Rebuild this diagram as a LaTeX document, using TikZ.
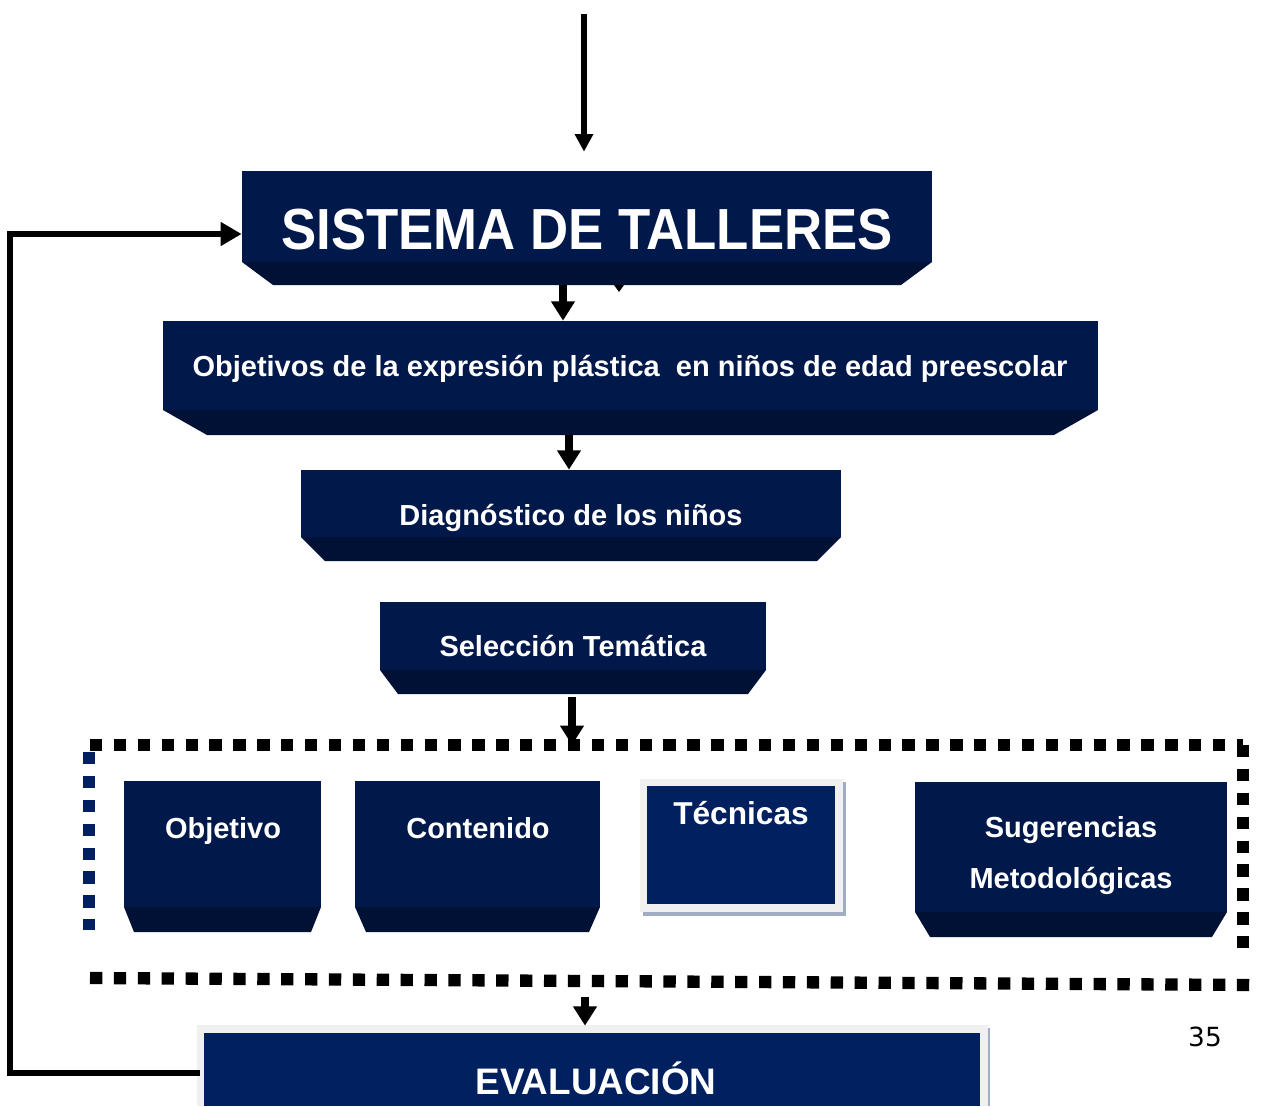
\documentclass[tikz,border=0pt]{standalone}
\usepackage{fontspec}
\setmainfont{Liberation Sans}
\newfontfamily\numfont{DejaVu Sans}
\usetikzlibrary{arrows.meta}
\usetikzlibrary{fit}
\usetikzlibrary{calc}

\definecolor{navytop}{RGB}{0,24,74}
\definecolor{navybev}{RGB}{0,17,54}
\definecolor{navylit}{RGB}{0,32,96}
\definecolor{framegray}{RGB}{240,240,240}
\definecolor{gridblue}{RGB}{160,172,196}

\tikzset{
  body/.style={fill=navytop, draw=none, inner sep=0pt},
  bevel/.style={fill=navybev},
  boxtext/.style={text=white, anchor=base, inner sep=0pt,
    font=\bfseries\fontsize{16.5}{20}\selectfont},
  arr/.style={line width=5pt, -{Triangle[width=13pt,length=11pt]}},
  thinarr/.style={line width=3.4pt, -{Triangle[width=10pt,length=10pt]}},
  dots/.style={line width=7pt, dash pattern=on 7pt off 6.6pt},
}

% box with a darker bevel under it
\newcommand{\tallerbox}[7]{%
  \fill[bevel] (#2,#5) -- (#4,#5) -- ({#4-#7},#6) -- ({#2+#7},#6) -- cycle;
  \node[body, fit={(#2,#3) (#4,#5)}] (#1) {};
  \coordinate (#1-b) at ({(#2+#4)/2},#6);
}

\begin{document}
\begin{tikzpicture}[x=0.02cm, y=-0.02cm]
  \useasboundingbox (0,0) rectangle (1261,1106);

  \tallerbox{sistema}{242}{171}{932}{262}{285}{31}
  \node[boxtext, font=\bfseries\fontsize{33}{38}\selectfont] (sistemaT) at (587,249)
    {\scalebox{0.91}[1]{SISTEMA DE TALLERES}};
  \fill (614,285) -- (624,285) -- (619,292) -- cycle;

  \tallerbox{objetivos}{163}{321}{1098}{410}{435}{44}
  \node[boxtext] (objetivosT) at (630,376)
    {Objetivos de la expresión plástica\ \ en niños de edad preescolar};

  \tallerbox{diagnostico}{301}{470}{841}{537}{561}{24}
  \node[boxtext] (diagnosticoT) at (571,525) {Diagnóstico de los niños};

  \tallerbox{seleccion}{380}{602}{766}{670}{694}{18}
  \node[boxtext] (seleccionT) at (573,656) {Selección Temática};

  % marco punteado
  \draw[dots] (90,745) -- (1243,745);
  \draw[dots, navylit] (89,752) -- (89,930);
  \draw[dots] (1243,745) -- (1243,955);
  \draw[dots] (90,978) -- (1253,985);
  \coordinate (marco-n) at (572,745);
  \coordinate (marco-s) at (585,997);

  \tallerbox{objetivo}{124}{781}{321}{907}{932}{10}
  \node[boxtext] (objetivoT) at (223,838) {Objetivo};

  \tallerbox{contenido}{355}{781}{600}{907}{932}{11}
  \node[boxtext] (contenidoT) at (478,838) {Contenido};

  \fill[gridblue] (643,782) rectangle (846,916);
  \fill[framegray] (640,779) rectangle (843,912);
  \node[body, fill=navylit, fit={(647,786) (835,904)}] (tecnicas) {};
  \node[boxtext, font=\bfseries\fontsize{18}{22}\selectfont] (tecnicasT) at (741,824) {Técnicas};

  \tallerbox{sugerencias}{915}{782}{1227}{912}{937}{15}
  \node[boxtext] (sugerenciasT) at (1071,837) {Sugerencias};
  \node[boxtext] (metodologicasT) at (1071,888) {Metodológicas};

  \fill[gridblue] (985,1028) rectangle (990,1106);
  \fill[framegray] (197,1025) rectangle (988,1106);
  \node[body, fill=navylit, fit={(204,1033) (980,1106)}] (evaluacion) {};
  \node[boxtext, font=\bfseries\fontsize{21}{25}\selectfont] (evaluacionT) at (596,1094) {EVALUACIÓN};

  % flechas
  \coordinate (entrada) at (584,14);
  \draw[thinarr] (entrada) -- ($(sistema.north -| entrada)+(0,-19)$);
  \draw[arr] (sistema-b -| 563,0) -- (objetivos.north -| 563,0);
  \draw[arr] (objetivos-b -| 569,0) -- (diagnostico.north -| 569,0);
  \draw[arr] ($(seleccion-b -| marco-n)+(0,3)$) -- (marco-n);
  \draw[arr] (marco-s) -- ($(evaluacion.north -| marco-s)+(0,-7)$);
  \draw[line width=3pt, -{Triangle[width=13pt,length=12pt]}]
    ($(evaluacion.west |- 0,1073)+(-4,0)$) -| (10,234) -- (sistema.west |- 0,234);

  \node[font=\numfont\fontsize{15}{18}\selectfont, anchor=base] (pagina) at (1205,1046) {35};
\end{tikzpicture}
\end{document}
